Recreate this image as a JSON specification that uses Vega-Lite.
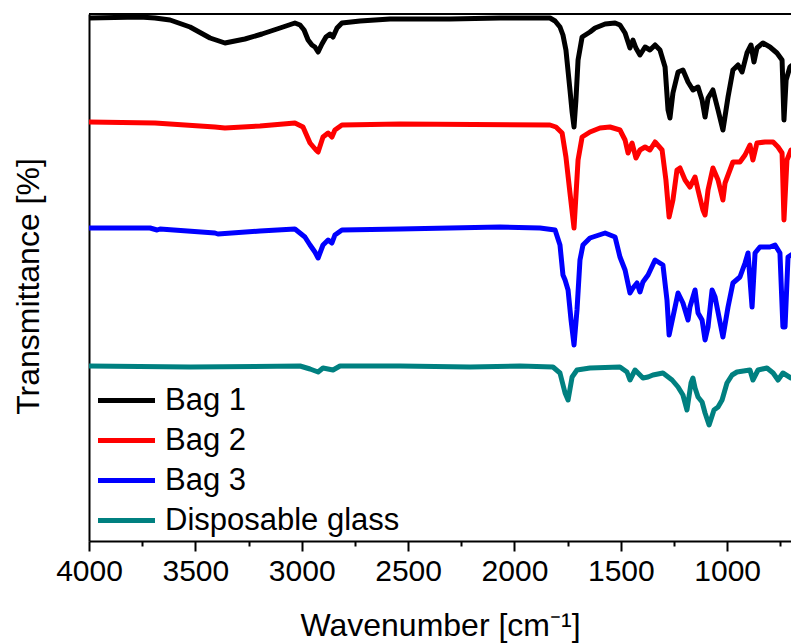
{
  "$schema": "https://vega.github.io/schema/vega-lite/v6.json",
  "width": 702,
  "height": 527,
  "autosize": {"type": "none"},
  "padding": {"left": 89, "top": 14, "right": 0, "bottom": 103},
  "background": "white",
  "config": {
    "view": {"stroke": null},
    "font": "Liberation Sans"
  },
  "data": {"values": [
    {"s":"Bag 1","w":4000,"t":104.6},{"s":"Bag 1","w":3760,"t":104.8},{"s":"Bag 1","w":3690,"t":104.6},{"s":"Bag 1","w":3619,"t":104.2},{"s":"Bag 1","w":3525,"t":102.8},{"s":"Bag 1","w":3431,"t":100.6},{"s":"Bag 1","w":3361,"t":99.6},{"s":"Bag 1","w":3267,"t":100.4},{"s":"Bag 1","w":3187,"t":101.4},{"s":"Bag 1","w":3102,"t":102.6},{"s":"Bag 1","w":3032,"t":103.6},{"s":"Bag 1","w":3008,"t":103.2},{"s":"Bag 1","w":2989,"t":102.2},{"s":"Bag 1","w":2970,"t":100.2},{"s":"Bag 1","w":2952,"t":99.2},{"s":"Bag 1","w":2938,"t":98.8},{"s":"Bag 1","w":2923,"t":97.8},{"s":"Bag 1","w":2905,"t":99.4},{"s":"Bag 1","w":2886,"t":100.8},{"s":"Bag 1","w":2867,"t":101.4},{"s":"Bag 1","w":2853,"t":100.8},{"s":"Bag 1","w":2834,"t":102.6},{"s":"Bag 1","w":2811,"t":103.6},{"s":"Bag 1","w":2726,"t":104.0},{"s":"Bag 1","w":2585,"t":104.4},{"s":"Bag 1","w":2303,"t":104.4},{"s":"Bag 1","w":2068,"t":104.6},{"s":"Bag 1","w":1833,"t":104.6},{"s":"Bag 1","w":1809,"t":104.0},{"s":"Bag 1","w":1786,"t":102.8},{"s":"Bag 1","w":1772,"t":101.2},{"s":"Bag 1","w":1758,"t":98.2},{"s":"Bag 1","w":1739,"t":90.2},{"s":"Bag 1","w":1729,"t":85.8},{"s":"Bag 1","w":1720,"t":82.8},{"s":"Bag 1","w":1711,"t":88.2},{"s":"Bag 1","w":1701,"t":96.2},{"s":"Bag 1","w":1682,"t":100.8},{"s":"Bag 1","w":1645,"t":101.8},{"s":"Bag 1","w":1621,"t":102.6},{"s":"Bag 1","w":1574,"t":103.4},{"s":"Bag 1","w":1527,"t":103.6},{"s":"Bag 1","w":1504,"t":103.2},{"s":"Bag 1","w":1480,"t":101.6},{"s":"Bag 1","w":1457,"t":98.6},{"s":"Bag 1","w":1443,"t":100.2},{"s":"Bag 1","w":1429,"t":98.6},{"s":"Bag 1","w":1410,"t":97.2},{"s":"Bag 1","w":1386,"t":98.8},{"s":"Bag 1","w":1363,"t":98.2},{"s":"Bag 1","w":1339,"t":99.2},{"s":"Bag 1","w":1316,"t":98.2},{"s":"Bag 1","w":1292,"t":94.8},{"s":"Bag 1","w":1278,"t":86.2},{"s":"Bag 1","w":1269,"t":84.6},{"s":"Bag 1","w":1255,"t":89.6},{"s":"Bag 1","w":1231,"t":93.8},{"s":"Bag 1","w":1208,"t":94.2},{"s":"Bag 1","w":1184,"t":91.8},{"s":"Bag 1","w":1161,"t":90.2},{"s":"Bag 1","w":1137,"t":90.8},{"s":"Bag 1","w":1118,"t":88.2},{"s":"Bag 1","w":1104,"t":84.8},{"s":"Bag 1","w":1090,"t":88.6},{"s":"Bag 1","w":1067,"t":90.2},{"s":"Bag 1","w":1043,"t":86.2},{"s":"Bag 1","w":1020,"t":82.2},{"s":"Bag 1","w":996,"t":88.8},{"s":"Bag 1","w":973,"t":94.2},{"s":"Bag 1","w":949,"t":95.2},{"s":"Bag 1","w":930,"t":93.8},{"s":"Bag 1","w":907,"t":97.6},{"s":"Bag 1","w":888,"t":99.2},{"s":"Bag 1","w":874,"t":95.8},{"s":"Bag 1","w":860,"t":98.6},{"s":"Bag 1","w":832,"t":99.6},{"s":"Bag 1","w":799,"t":98.8},{"s":"Bag 1","w":766,"t":97.6},{"s":"Bag 1","w":742,"t":96.2},{"s":"Bag 1","w":733,"t":84.2},{"s":"Bag 1","w":723,"t":92.2},{"s":"Bag 1","w":705,"t":94.8},{"s":"Bag 1","w":700,"t":95.0},
    {"s":"Bag 2","w":4000,"t":83.8},{"s":"Bag 2","w":3690,"t":83.6},{"s":"Bag 2","w":3408,"t":82.8},{"s":"Bag 2","w":3361,"t":82.6},{"s":"Bag 2","w":3196,"t":83.0},{"s":"Bag 2","w":3032,"t":83.6},{"s":"Bag 2","w":2994,"t":82.8},{"s":"Bag 2","w":2961,"t":79.6},{"s":"Bag 2","w":2933,"t":78.2},{"s":"Bag 2","w":2923,"t":77.8},{"s":"Bag 2","w":2900,"t":80.8},{"s":"Bag 2","w":2876,"t":81.6},{"s":"Bag 2","w":2858,"t":80.8},{"s":"Bag 2","w":2844,"t":82.2},{"s":"Bag 2","w":2811,"t":83.2},{"s":"Bag 2","w":2538,"t":83.4},{"s":"Bag 2","w":1833,"t":83.2},{"s":"Bag 2","w":1805,"t":82.8},{"s":"Bag 2","w":1776,"t":81.6},{"s":"Bag 2","w":1758,"t":76.8},{"s":"Bag 2","w":1739,"t":69.6},{"s":"Bag 2","w":1720,"t":62.6},{"s":"Bag 2","w":1701,"t":76.2},{"s":"Bag 2","w":1682,"t":80.8},{"s":"Bag 2","w":1645,"t":81.8},{"s":"Bag 2","w":1598,"t":82.6},{"s":"Bag 2","w":1551,"t":82.8},{"s":"Bag 2","w":1504,"t":82.2},{"s":"Bag 2","w":1480,"t":80.2},{"s":"Bag 2","w":1466,"t":77.6},{"s":"Bag 2","w":1447,"t":79.6},{"s":"Bag 2","w":1429,"t":76.6},{"s":"Bag 2","w":1410,"t":78.2},{"s":"Bag 2","w":1386,"t":78.8},{"s":"Bag 2","w":1363,"t":78.2},{"s":"Bag 2","w":1339,"t":79.8},{"s":"Bag 2","w":1306,"t":78.2},{"s":"Bag 2","w":1288,"t":72.2},{"s":"Bag 2","w":1273,"t":64.8},{"s":"Bag 2","w":1255,"t":68.2},{"s":"Bag 2","w":1236,"t":74.2},{"s":"Bag 2","w":1222,"t":74.6},{"s":"Bag 2","w":1198,"t":72.2},{"s":"Bag 2","w":1175,"t":70.8},{"s":"Bag 2","w":1151,"t":72.8},{"s":"Bag 2","w":1137,"t":70.2},{"s":"Bag 2","w":1114,"t":66.2},{"s":"Bag 2","w":1104,"t":65.2},{"s":"Bag 2","w":1090,"t":70.2},{"s":"Bag 2","w":1067,"t":74.6},{"s":"Bag 2","w":1043,"t":72.2},{"s":"Bag 2","w":1020,"t":68.2},{"s":"Bag 2","w":1010,"t":71.6},{"s":"Bag 2","w":973,"t":75.8},{"s":"Bag 2","w":940,"t":75.8},{"s":"Bag 2","w":916,"t":77.2},{"s":"Bag 2","w":893,"t":79.2},{"s":"Bag 2","w":879,"t":76.2},{"s":"Bag 2","w":860,"t":79.6},{"s":"Bag 2","w":822,"t":79.8},{"s":"Bag 2","w":784,"t":79.8},{"s":"Bag 2","w":761,"t":78.8},{"s":"Bag 2","w":742,"t":77.6},{"s":"Bag 2","w":733,"t":64.2},{"s":"Bag 2","w":719,"t":76.2},{"s":"Bag 2","w":700,"t":78.2},
    {"s":"Bag 3","w":4000,"t":62.6},{"s":"Bag 3","w":3713,"t":62.6},{"s":"Bag 3","w":3680,"t":62.2},{"s":"Bag 3","w":3666,"t":62.4},{"s":"Bag 3","w":3408,"t":61.6},{"s":"Bag 3","w":3394,"t":61.4},{"s":"Bag 3","w":3196,"t":62.0},{"s":"Bag 3","w":3032,"t":62.4},{"s":"Bag 3","w":2985,"t":60.8},{"s":"Bag 3","w":2961,"t":59.2},{"s":"Bag 3","w":2938,"t":57.8},{"s":"Bag 3","w":2923,"t":56.6},{"s":"Bag 3","w":2900,"t":59.2},{"s":"Bag 3","w":2876,"t":60.2},{"s":"Bag 3","w":2858,"t":59.6},{"s":"Bag 3","w":2844,"t":61.2},{"s":"Bag 3","w":2811,"t":62.2},{"s":"Bag 3","w":2538,"t":62.4},{"s":"Bag 3","w":2068,"t":62.8},{"s":"Bag 3","w":1880,"t":62.6},{"s":"Bag 3","w":1809,"t":62.2},{"s":"Bag 3","w":1786,"t":59.2},{"s":"Bag 3","w":1772,"t":53.2},{"s":"Bag 3","w":1762,"t":52.2},{"s":"Bag 3","w":1748,"t":50.2},{"s":"Bag 3","w":1734,"t":44.2},{"s":"Bag 3","w":1720,"t":39.2},{"s":"Bag 3","w":1706,"t":46.2},{"s":"Bag 3","w":1692,"t":56.2},{"s":"Bag 3","w":1678,"t":59.2},{"s":"Bag 3","w":1645,"t":60.6},{"s":"Bag 3","w":1574,"t":61.6},{"s":"Bag 3","w":1527,"t":60.8},{"s":"Bag 3","w":1504,"t":56.8},{"s":"Bag 3","w":1480,"t":54.2},{"s":"Bag 3","w":1457,"t":49.6},{"s":"Bag 3","w":1443,"t":50.6},{"s":"Bag 3","w":1424,"t":51.6},{"s":"Bag 3","w":1410,"t":49.8},{"s":"Bag 3","w":1396,"t":51.8},{"s":"Bag 3","w":1372,"t":53.2},{"s":"Bag 3","w":1339,"t":56.2},{"s":"Bag 3","w":1302,"t":55.2},{"s":"Bag 3","w":1283,"t":48.2},{"s":"Bag 3","w":1273,"t":41.2},{"s":"Bag 3","w":1255,"t":44.8},{"s":"Bag 3","w":1231,"t":49.6},{"s":"Bag 3","w":1208,"t":47.6},{"s":"Bag 3","w":1184,"t":44.2},{"s":"Bag 3","w":1175,"t":46.8},{"s":"Bag 3","w":1151,"t":50.2},{"s":"Bag 3","w":1137,"t":45.6},{"s":"Bag 3","w":1118,"t":44.2},{"s":"Bag 3","w":1104,"t":40.2},{"s":"Bag 3","w":1090,"t":42.8},{"s":"Bag 3","w":1071,"t":50.2},{"s":"Bag 3","w":1057,"t":48.8},{"s":"Bag 3","w":1020,"t":40.8},{"s":"Bag 3","w":996,"t":46.8},{"s":"Bag 3","w":973,"t":51.6},{"s":"Bag 3","w":940,"t":52.8},{"s":"Bag 3","w":916,"t":55.6},{"s":"Bag 3","w":902,"t":57.6},{"s":"Bag 3","w":883,"t":46.8},{"s":"Bag 3","w":869,"t":57.6},{"s":"Bag 3","w":846,"t":58.8},{"s":"Bag 3","w":799,"t":58.8},{"s":"Bag 3","w":775,"t":59.2},{"s":"Bag 3","w":752,"t":57.6},{"s":"Bag 3","w":738,"t":42.8},{"s":"Bag 3","w":728,"t":42.8},{"s":"Bag 3","w":714,"t":56.8},{"s":"Bag 3","w":700,"t":57.2},
    {"s":"Disposable glass","w":4000,"t":35.0},{"s":"Disposable glass","w":3525,"t":34.8},{"s":"Disposable glass","w":3008,"t":35.0},{"s":"Disposable glass","w":2961,"t":34.4},{"s":"Disposable glass","w":2923,"t":33.8},{"s":"Disposable glass","w":2900,"t":34.6},{"s":"Disposable glass","w":2853,"t":34.2},{"s":"Disposable glass","w":2820,"t":35.0},{"s":"Disposable glass","w":2538,"t":35.0},{"s":"Disposable glass","w":2209,"t":34.8},{"s":"Disposable glass","w":1974,"t":35.0},{"s":"Disposable glass","w":1819,"t":34.8},{"s":"Disposable glass","w":1786,"t":33.6},{"s":"Disposable glass","w":1762,"t":29.6},{"s":"Disposable glass","w":1748,"t":28.2},{"s":"Disposable glass","w":1729,"t":32.8},{"s":"Disposable glass","w":1706,"t":34.2},{"s":"Disposable glass","w":1645,"t":34.6},{"s":"Disposable glass","w":1504,"t":34.8},{"s":"Disposable glass","w":1471,"t":33.8},{"s":"Disposable glass","w":1457,"t":32.2},{"s":"Disposable glass","w":1433,"t":34.2},{"s":"Disposable glass","w":1396,"t":32.6},{"s":"Disposable glass","w":1372,"t":32.8},{"s":"Disposable glass","w":1349,"t":33.2},{"s":"Disposable glass","w":1302,"t":33.6},{"s":"Disposable glass","w":1259,"t":32.2},{"s":"Disposable glass","w":1231,"t":30.8},{"s":"Disposable glass","w":1208,"t":29.2},{"s":"Disposable glass","w":1189,"t":26.2},{"s":"Disposable glass","w":1170,"t":31.6},{"s":"Disposable glass","w":1161,"t":32.6},{"s":"Disposable glass","w":1151,"t":30.6},{"s":"Disposable glass","w":1137,"t":28.8},{"s":"Disposable glass","w":1118,"t":27.8},{"s":"Disposable glass","w":1104,"t":25.6},{"s":"Disposable glass","w":1085,"t":23.2},{"s":"Disposable glass","w":1062,"t":26.2},{"s":"Disposable glass","w":1043,"t":26.8},{"s":"Disposable glass","w":1024,"t":28.2},{"s":"Disposable glass","w":1001,"t":31.6},{"s":"Disposable glass","w":977,"t":33.2},{"s":"Disposable glass","w":954,"t":33.8},{"s":"Disposable glass","w":893,"t":34.2},{"s":"Disposable glass","w":879,"t":32.2},{"s":"Disposable glass","w":855,"t":34.2},{"s":"Disposable glass","w":813,"t":34.6},{"s":"Disposable glass","w":784,"t":33.6},{"s":"Disposable glass","w":761,"t":32.2},{"s":"Disposable glass","w":738,"t":33.6},{"s":"Disposable glass","w":700,"t":32.6}
  ]},
  "layer": [
    {
      "mark": {"type": "rule", "color": "black", "strokeWidth": 2},
      "encoding": {"y": {"datum": 105.4, "type": "quantitative"}}
    },
    {
      "mark": {"type": "line", "strokeWidth": 5, "strokeJoin": "round", "strokeCap": "round", "clip": true},
      "encoding": {
        "x": {
          "field": "w", "type": "quantitative",
          "scale": {"domain": [4000, 700], "nice": false, "zero": false},
          "axis": {
            "title": "Wavenumber [cm⁻¹]",
            "values": [4000, 3750, 3500, 3250, 3000, 2750, 2500, 2250, 2000, 1750, 1500, 1250, 1000, 750],
            "labelExpr": "datum.value % 500 === 0 ? datum.label : ''",
            "format": "d",
            "grid": false,
            "domainColor": "black", "domainWidth": 2,
            "tickColor": "black", "tickWidth": 2,
            "tickSize": {"condition": {"test": "datum.value % 500 === 0", "value": 10}, "value": 5},
            "labelFontSize": 30, "labelColor": "black", "labelPadding": 5, "labelFlush": false,
            "titleFontSize": 32, "titleFontWeight": "normal", "titleColor": "black", "titlePadding": 24
          }
        },
        "y": {
          "field": "t", "type": "quantitative",
          "scale": {"domain": [0, 105.4], "nice": false, "zero": false},
          "axis": {
            "title": "Transmittance [%]",
            "labels": false, "ticks": false, "grid": false,
            "domainColor": "black", "domainWidth": 2,
            "titleFontSize": 32, "titleFontWeight": "normal", "titleColor": "black", "titlePadding": 44,
            "titleY": 272
          }
        },
        "color": {
          "field": "s", "type": "nominal",
          "scale": {"domain": ["Bag 1", "Bag 2", "Bag 3", "Disposable glass"], "range": ["#000000", "#ff0000", "#0000ff", "#008080"]},
          "legend": {
            "title": null,
            "orient": "none",
            "legendX": 22,
            "legendY": 371,
            "padding": 0,
            "symbolType": "M-3,0H3",
            "symbolSize": 361,
            "symbolStrokeWidth": 5,
            "labelFontSize": 31,
            "labelColor": "black",
            "labelOffset": 23,
            "labelLimit": 0,
            "rowPadding": 8
          }
        }
      }
    }
  ]
}
